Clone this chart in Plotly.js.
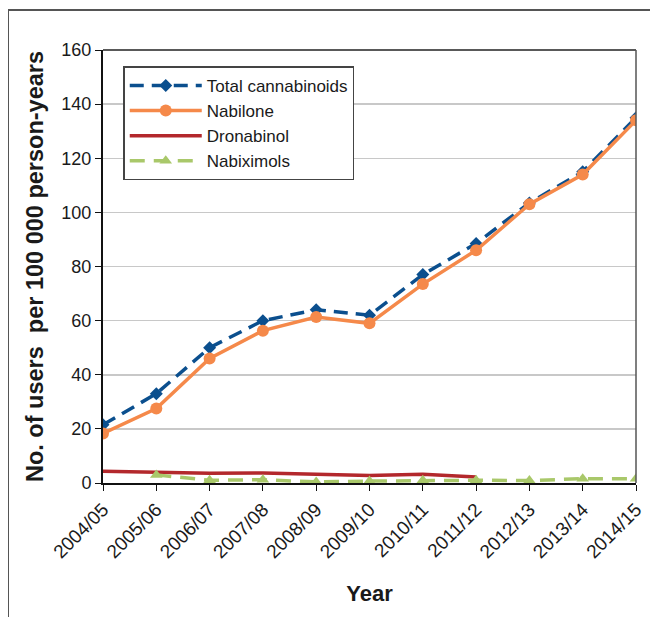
<!DOCTYPE html>
<html>
<head>
<meta charset="utf-8">
<script src="https://cdn.plot.ly/plotly-3.0.1.min.js"></script>
<style>
html,body{margin:0;padding:0;background:#fff;}
#wrap{position:absolute;left:0;top:0;width:650px;height:617px;}
#frame{position:absolute;left:8px;top:9px;width:660px;height:640px;border-left:1.5px solid #555;border-top:2px solid #555;pointer-events:none;z-index:5;}
#chart{position:absolute;left:0;top:0;width:650px;height:617px;}
</style>
</head>
<body>
<div id="wrap"><div id="chart"></div><div id="frame"></div></div>
<script>
const years = ["2004/05","2005/06","2006/07","2007/08","2008/09","2009/10","2010/11","2011/12","2012/13","2013/14","2014/15"];
const totalCannabinoids = [21.5, 33, 50, 60, 64, 62, 77, 88.5, 103.5, 115, 135];
const nabilone = [18.3, 27.5, 46, 56.3, 61.3, 59, 73.5, 86, 103, 114, 134];
const dronabinol = [4.3, 3.8, 3.6, 3.7, 3.2, 2.8, 3.2, 2.2, null, null, null];
const nabiximols = [null, 3.0, 1.0, 1.2, 0.4, 0.7, 1.0, 1.0, 0.9, 1.6, 1.6];

const traces = [
  {x: years, y: totalCannabinoids, name: "Total cannabinoids", type: "scatter", mode: "lines+markers",
   line: {color: "#0b4f8e", width: 3.5, dash: "14px,8px"}, marker: {symbol: "diamond", size: 10, color: "#0b4f8e"}},
  {x: years, y: nabilone, name: "Nabilone", type: "scatter", mode: "lines+markers",
   line: {color: "#f5894a", width: 3.5}, marker: {symbol: "circle", size: 12, color: "#f5894a"}},
  {x: years, y: dronabinol, name: "Dronabinol", type: "scatter", mode: "lines",
   line: {color: "#b3282c", width: 3.5}},
  {x: years, y: nabiximols, name: "Nabiximols", type: "scatter", mode: "lines+markers",
   line: {color: "#a9c86a", width: 3.5, dash: "15px,9px"}, marker: {symbol: "triangle-up", size: 11, color: "#a9c86a"}}
];

const layout = {
  width: 650, height: 617,
  margin: {l: 103, r: 14, t: 50, b: 134},
  paper_bgcolor: "#fff", plot_bgcolor: "#fff",
  font: {family: "Liberation Sans, Arial, sans-serif", color: "#1a1a1a"},
  showlegend: true,
  legend: {x: 0.038, y: 0.962, xanchor: "left", yanchor: "top", bgcolor: "#fff",
           bordercolor: "#444", borderwidth: 1.5, itemwidth: 72,
           font: {size: 17, color: "#1a1a1a"}},
  xaxis: {
    type: "category", tickangle: -45, tickfont: {size: 19},
    showline: true, linecolor: "#111", linewidth: 2, mirror: false,
    ticks: "outside", ticklen: 6, tickcolor: "#111",
    showgrid: false, zeroline: false, range: [0, 10],
    title: {text: "<b>Year</b>", font: {size: 22}, standoff: 24}
  },
  yaxis: {
    range: [0, 160], dtick: 20, tickfont: {size: 18},
    showline: true, linecolor: "#111", linewidth: 2, mirror: false,
    ticks: "outside", ticklen: 6, tickcolor: "#111",
    showgrid: true, gridcolor: "#c8c8c8", gridwidth: 1.5, zeroline: false,
    title: {text: "<b>No. of users  per 100 000 person-years</b>", font: {size: 23.5}, standoff: 11}
  },
  shapes: [
    {type: "line", xref: "paper", yref: "paper", x0: 0, x1: 1, y0: 1, y1: 1, line: {color: "#222", width: 1.5}},
    {type: "line", xref: "paper", yref: "paper", x0: 1, x1: 1, y0: 0, y1: 1, line: {color: "#555", width: 1.5}}
  ]
};

Plotly.newPlot("chart", traces, layout, {displayModeBar: false, staticPlot: true});
</script>
</body>
</html>
